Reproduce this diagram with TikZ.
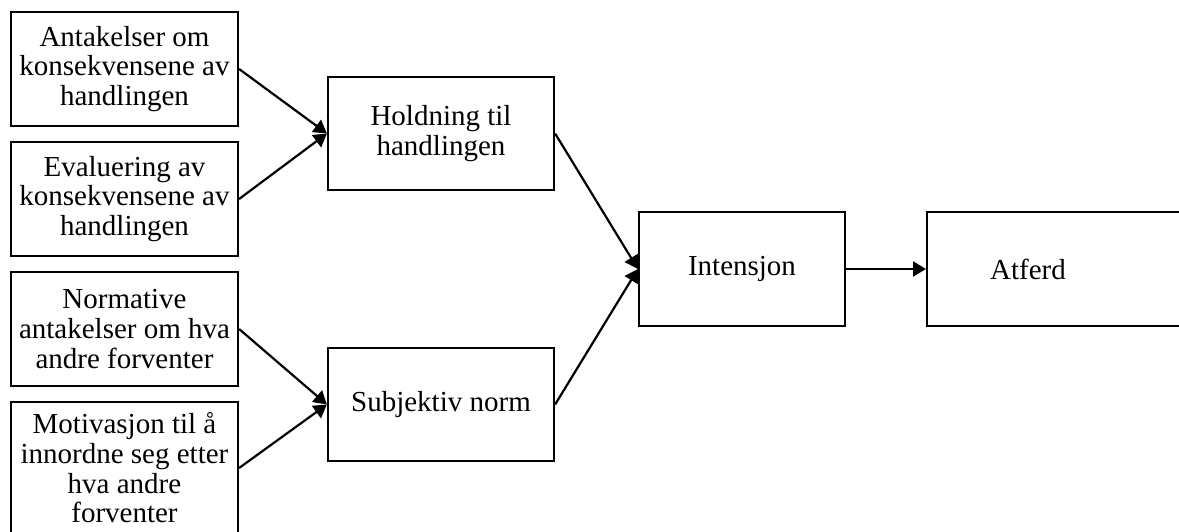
\documentclass[tikz,border=0pt]{standalone}
\usepackage{fontspec}
\setmainfont{Liberation Serif}
\usetikzlibrary{arrows.meta,positioning}

\begin{document}
\begin{tikzpicture}[
  x=0.5pt, y=-0.5pt,
  font=\fontsize{14.5}{14.8}\selectfont,
  box/.style={
    draw=black,
    line width=1.1pt,
    align=center,
    minimum width=113.5pt,
    minimum height=57pt,
    inner sep=1pt
  },
  arrow/.style={-{Triangle[length=6.5pt, width=7.5pt]}, line width=1.1pt}
]
\useasboundingbox (0,0) rectangle (1179,531);

\node[box] (antakelser) at (124.5,69) {Antakelser om\\konsekvensene av\\handlingen};
\node[box] (evaluering) at (124.5,199) {Evaluering av\\konsekvensene av\\handlingen};
\node[box] (normative) at (124.5,329) {Normative\\antakelser om hva\\andre forventer};
\node[box, minimum height=66pt] (motivasjon) at (124.5,468) {Motivasjon til å\\innordne seg etter\\hva andre\\forventer};

\node[box, minimum width=113pt, minimum height=56.5pt] (holdning) at (441,133.5) {Holdning til\\handlingen};
\node[box, minimum width=113pt, minimum height=56.5pt] (norm) at (441,404.5) {Subjektiv norm};

\node[box, minimum width=103pt] (intensjon) at (742,269) {Intensjon};
\node[box, anchor=west, minimum width=150pt] (atferd) at (926,269) {};
\node (atferdtext) at (1028,269) {Atferd};

\draw[arrow] (antakelser.east) -- (holdning.west);
\draw[arrow] (evaluering.east) -- (holdning.west);
\draw[arrow] (normative.east) -- (norm.west);
\draw[arrow] (motivasjon.east) -- (norm.west);
\draw[arrow] (holdning.east) -- (intensjon.west);
\draw[arrow] (norm.east) -- (intensjon.west);
\draw[arrow] (intensjon) -- (atferd);

\end{tikzpicture}
\end{document}
